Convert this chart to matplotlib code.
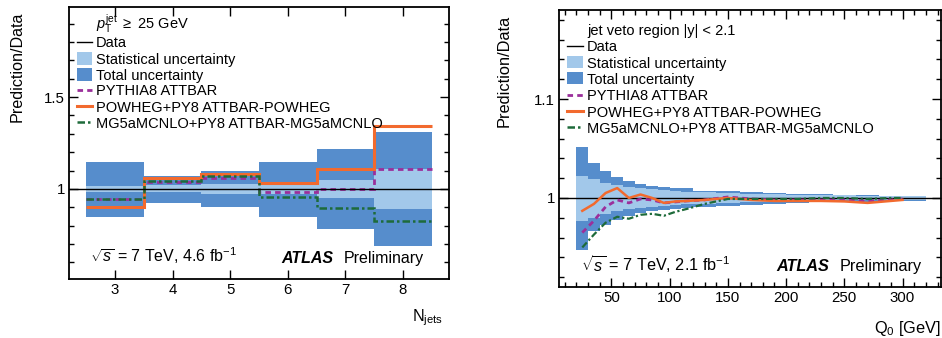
import numpy as np
import matplotlib
matplotlib.use("Agg")
import matplotlib.pyplot as plt
from matplotlib.ticker import MultipleLocator, FuncFormatter
from matplotlib.patches import Rectangle
from matplotlib.lines import Line2D

plt.rcParams['font.family'] = ['Liberation Sans', 'DejaVu Sans']
plt.rcParams['mathtext.fontset'] = 'custom'
plt.rcParams['mathtext.rm'] = 'Liberation Sans'
plt.rcParams['mathtext.it'] = 'Liberation Sans:italic'
plt.rcParams['mathtext.bf'] = 'Liberation Sans:bold'

# ---- left panel: jet multiplicity ----
njet_edges = [2.5, 3.5, 4.5, 5.5, 6.5, 7.5, 8.5]
njet_tot_hi = [1.147, 1.070, 1.098, 1.147, 1.217, 1.310]
njet_tot_lo = [0.850, 0.926, 0.904, 0.850, 0.783, 0.692]
njet_stat_hi = [1.018, 1.021, 1.028, 1.025, 1.049, 1.107]
njet_stat_lo = [0.981, 0.981, 0.974, 0.970, 0.953, 0.891]
njet_pythia = [0.945, 1.037, 1.062, 0.982, 0.998, 1.109]
njet_powheg = [0.901, 1.061, 1.084, 1.031, 1.109, 1.342]
njet_mg5 = [0.945, 1.045, 1.073, 0.958, 0.895, 0.828]

# ---- right panel: gap fraction vs Q0 ----
q0_edges = [20, 30, 40, 50, 60, 70, 80, 90, 100, 110, 120, 140, 160, 180,
            200, 220, 240, 260, 280, 300, 320]
q0_tot_hi = [1.052, 1.035, 1.027, 1.021, 1.017, 1.0145, 1.0125, 1.011, 1.0098,
             1.0098, 1.0074, 1.0074, 1.0057, 1.0047, 1.004, 1.004, 1.003,
             1.003, 1.002, 1.002]
q0_tot_lo = [0.947, 0.967, 0.973, 0.978, 0.982, 0.985, 0.987, 0.988, 0.989,
             0.990, 0.9905, 0.9915, 0.993, 0.994, 0.995, 0.9955, 0.9957,
             0.996, 0.9965, 0.997]
q0_stat_hi = [1.022, 1.019, 1.015, 1.013, 1.011, 1.010, 1.009, 1.008, 1.007,
              1.0065, 1.006, 1.0055, 1.0045, 1.004, 1.0035, 1.003, 1.0025,
              1.0022, 1.002, 1.0018]
q0_stat_lo = [0.977, 0.980, 0.984, 0.987, 0.989, 0.990, 0.991, 0.992, 0.993,
              0.9935, 0.994, 0.9945, 0.9955, 0.996, 0.9965, 0.997, 0.9975,
              0.9978, 0.998, 0.9982]
q0_x = [25, 35, 45, 55, 65, 75, 85, 95, 105, 115, 130, 150, 170, 190, 210,
        230, 250, 270, 290, 300]
q0_powheg = [0.987, 0.994, 1.005, 1.010, 1.000, 1.0035, 1.000, 0.995, 0.9965,
             0.997, 0.998, 1.000, 0.998, 0.997, 0.997, 0.997, 0.9965, 0.995,
             0.997, 0.998]
q0_pythia = [0.965, 0.977, 0.991, 0.998, 0.995, 0.999, 0.998, 0.995, 0.996,
             0.997, 0.998, 1.001, 0.999, 0.998, 0.998, 0.998, 0.998, 0.997,
             0.998, 0.999]
q0_mg5 = [0.950, 0.963, 0.975, 0.981, 0.979, 0.983, 0.984, 0.982, 0.986,
          0.989, 0.994, 0.999, 0.999, 0.999, 0.999, 1.000, 1.000, 0.999,
          1.000, 1.000]

C_TOT = '#568dcc'
C_STAT = '#a2c8ea'
C_PY = '#9b2f9b'
C_PW = '#f26a2e'
C_MG = '#1e6b3a'

labels = ['Data', 'Statistical uncertainty', 'Total uncertainty',
          'PYTHIA8 ATTBAR', 'POWHEG+PY8 ATTBAR-POWHEG',
          'MG5aMCNLO+PY8 ATTBAR-MG5aMCNLO']

fig = plt.figure(figsize=(9.42, 3.38), dpi=100)
ax1 = fig.add_axes([69/942, 59/338, 380/942, 272/338])
ax2 = fig.add_axes([559/942, 51/338, 382/942, 277/338])

fmt = FuncFormatter(lambda v, p: '%g' % round(v, 3))


def style_axes(ax):
    ax.tick_params(which='both', direction='in', top=True, right=True,
                   labelsize=10.8, width=1.0)
    ax.tick_params(which='major', length=6.5, pad=3)
    ax.tick_params(which='minor', length=3.5)
    for s in ax.spines.values():
        s.set_linewidth(1.3)
    ax.yaxis.set_major_formatter(fmt)


def draw_legend(ax, x0, x1, ys, box_h, header, header_y):
    tx = x1 + 0.011
    ax.text(tx, header_y, header, transform=ax.transAxes, fontsize=10.5,
            ha='left', va='baseline')
    tr = ax.transAxes
    ax.add_line(Line2D([x0, x1], [ys[0], ys[0]], color='black', lw=1.0,
                       transform=tr))
    ax.add_patch(Rectangle((x0, ys[1] - box_h/2), x1 - x0, box_h,
                           color=C_STAT, transform=tr, lw=0))
    ax.add_patch(Rectangle((x0, ys[2] - box_h/2), x1 - x0, box_h,
                           color=C_TOT, transform=tr, lw=0))
    ax.add_line(Line2D([x0, x1], [ys[3], ys[3]], color=C_PY, lw=2.0,
                       ls=(0, (2, 1.5)), transform=tr))
    ax.add_line(Line2D([x0, x1], [ys[4], ys[4]], color=C_PW, lw=2.2,
                       transform=tr))
    ax.add_line(Line2D([x0, x1], [ys[5], ys[5]], color=C_MG, lw=1.8,
                       ls=(0, (3, 1.2, 1, 1.2)), transform=tr))
    for y, lab in zip(ys, labels):
        ax.text(tx, y, lab, transform=tr, fontsize=10.5, ha='left',
                va='center_baseline')


# left panel
ax1.stairs(njet_tot_hi, njet_edges, baseline=njet_tot_lo, fill=True,
           color=C_TOT, lw=0)
ax1.stairs(njet_stat_hi, njet_edges, baseline=njet_stat_lo, fill=True,
           color=C_STAT, lw=0)
ax1.axhline(1.0, color='black', lw=1.0)
ax1.stairs(njet_pythia, njet_edges, color=C_PY, lw=2.0, ls=(0, (2, 1.5)),
           baseline=None)
ax1.stairs(njet_powheg, njet_edges, color=C_PW, lw=2.2, baseline=None)
ax1.stairs(njet_mg5, njet_edges, color=C_MG, lw=1.8,
           ls=(0, (3, 1.2, 1, 1.2)), baseline=None)
ax1.set_xlim(2.2, 8.8)
ax1.set_ylim(0.51, 1.99)
ax1.xaxis.set_major_locator(MultipleLocator(1))
ax1.yaxis.set_major_locator(MultipleLocator(0.5))
ax1.yaxis.set_minor_locator(MultipleLocator(0.1))
style_axes(ax1)
ax1.set_ylabel('Prediction/Data', loc='top', fontsize=11.6)
ax1.yaxis.set_label_coords(-0.118, 0.982)
ax1.set_xlabel(r'N$_{\mathrm{jets}}$', loc='right', fontsize=11.6)
ax1.xaxis.set_label_coords(0.984, -0.105)
draw_legend(ax1, 0.021, 0.0605,
            [0.8724, 0.8118, 0.7518, 0.6949, 0.6353, 0.5765], 0.048,
            r'$p_{\mathrm{T}}^{\mathrm{jet}}$ $\geq$ 25 GeV', 0.918)
ax1.text(0.055, 0.092, r'$\sqrt{s}$ = 7 TeV, 4.6 fb$^{-1}$',
         transform=ax1.transAxes, fontsize=11.5, va='center_baseline')
ax1.text(0.56, 0.082, 'ATLAS', transform=ax1.transAxes, fontsize=11.5,
         fontweight='bold', fontstyle='italic', va='center_baseline')
ax1.text(0.934, 0.082, 'Preliminary', transform=ax1.transAxes,
         fontsize=11.5, ha='right', va='center_baseline')

# right panel
ax2.stairs(q0_tot_hi, q0_edges, baseline=q0_tot_lo, fill=True,
           color=C_TOT, lw=0)
ax2.stairs(q0_stat_hi, q0_edges, baseline=q0_stat_lo, fill=True,
           color=C_STAT, lw=0)
ax2.axhline(1.0, color='black', lw=1.0)
ax2.plot(q0_x, q0_pythia, color=C_PY, lw=2.0, ls=(0, (2, 1.5)))
ax2.plot(q0_x, q0_powheg, color=C_PW, lw=1.8)
ax2.plot(q0_x, q0_mg5, color=C_MG, lw=1.6, ls=(0, (3, 1.2, 1, 1.2)))
ax2.set_xlim(5, 333)
ax2.set_ylim(0.91, 1.19)
ax2.xaxis.set_major_locator(MultipleLocator(50))
ax2.xaxis.set_minor_locator(MultipleLocator(10))
ax2.yaxis.set_major_locator(MultipleLocator(0.1))
ax2.yaxis.set_minor_locator(MultipleLocator(0.02))
style_axes(ax2)
ax2.set_ylabel('Prediction/Data', loc='top', fontsize=11.8)
ax2.yaxis.set_label_coords(-0.124, 0.982)
ax2.set_xlabel(r'Q$_0$ [GeV]', loc='right', fontsize=11.8)
ax2.xaxis.set_label_coords(1.0, -0.117)
draw_legend(ax2, 0.0202, 0.062,
            [0.8708, 0.8116, 0.7538, 0.6939, 0.6347, 0.5773], 0.042,
            r'jet veto region |y| < 2.1', 0.91)
ax2.text(0.058, 0.091, r'$\sqrt{s}$ = 7 TeV, 2.1 fb$^{-1}$',
         transform=ax2.transAxes, fontsize=11.7, va='center_baseline')
ax2.text(0.568, 0.079, 'ATLAS', transform=ax2.transAxes, fontsize=11.7,
         fontweight='bold', fontstyle='italic', va='center_baseline')
ax2.text(0.949, 0.079, 'Preliminary', transform=ax2.transAxes,
         fontsize=11.7, ha='right', va='center_baseline')

fig.savefig('out.png', dpi=100)
